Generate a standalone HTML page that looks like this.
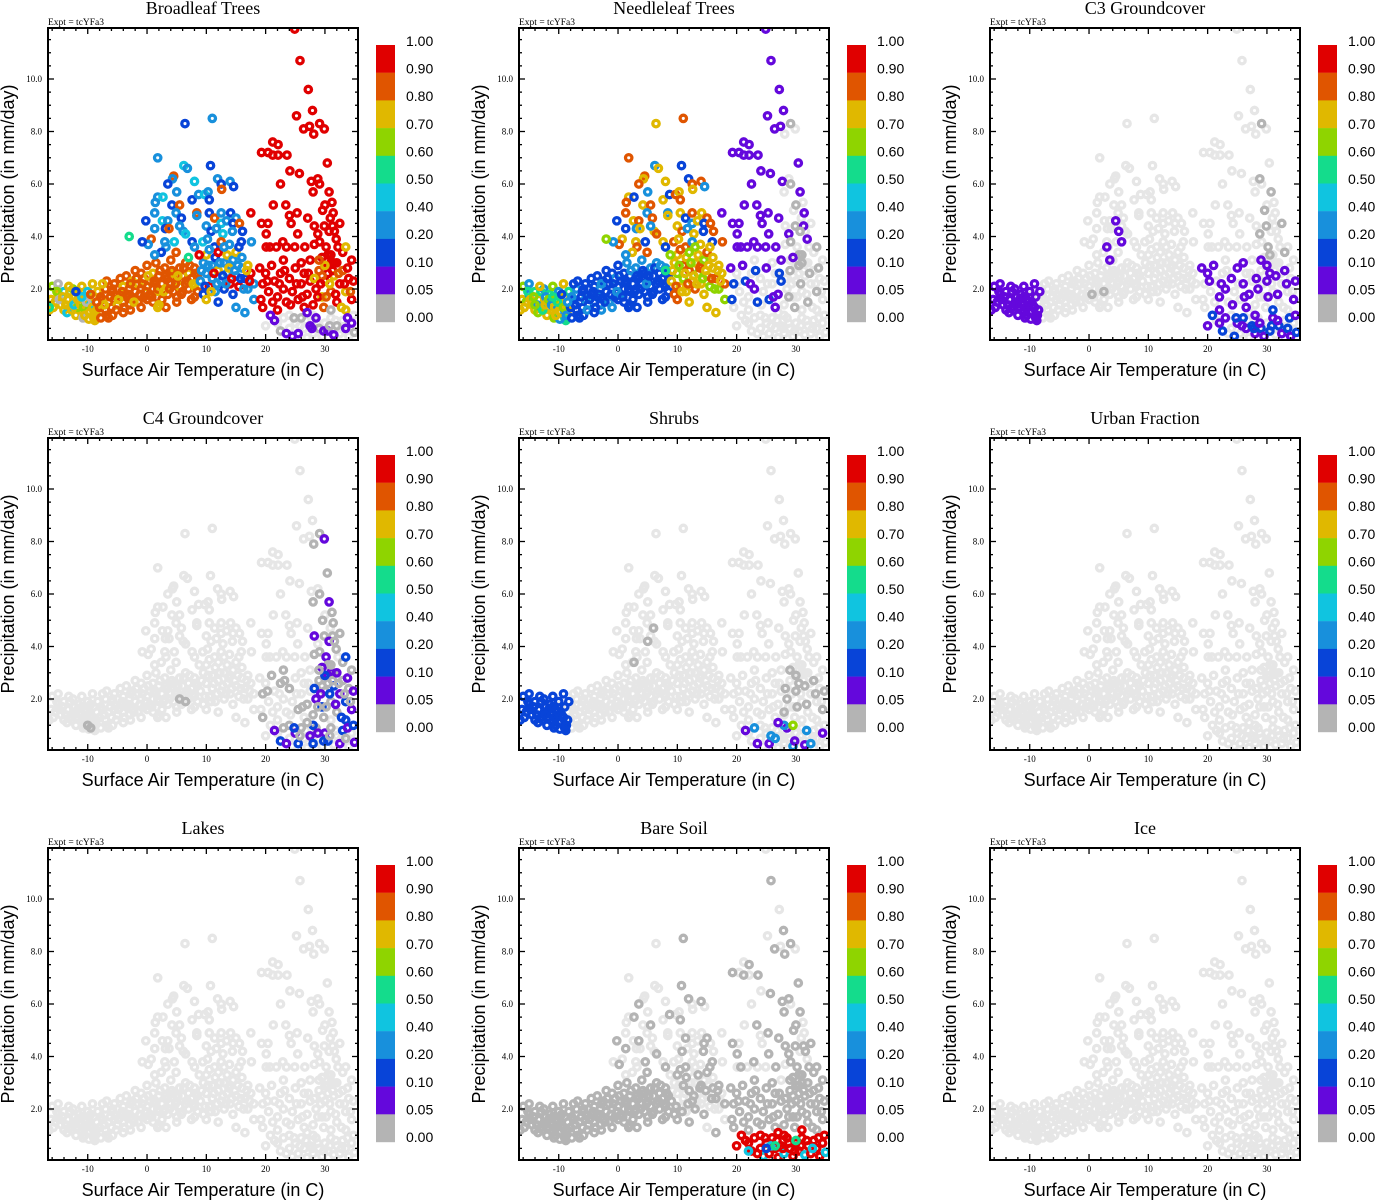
<!DOCTYPE html>
<html><head><meta charset="utf-8">
<style>
html,body{margin:0;padding:0;background:#fff;}
svg{display:block;}
</style></head>
<body>
<svg id="fig" width="1375" height="1200" xmlns="http://www.w3.org/2000/svg"></svg>
<script>
// ---- data: shared point cloud (temperature C, precipitation mm/day) grouped into clusters ----
const clusterW = [[-16.2,1.6],[-15.5,1.5],[-15,1.8],[-14.5,1.4],[-14,1.9],[-13.4,1.6],[-13,1.3],[-12.5,2.0],[-12,1.5],[-11.5,1.8],[-11,1.2],[-10.5,1.6],[-10,1.1],[-9.5,1.4],[-9,0.9],[-8.5,1.2],[-16,2.1],[-15,2.2],[-14,1.2],[-13,1.9],[-12,1.0],[-11,2.1],[-10,1.9],[-9.2,2.2],[-8.8,0.8],[-11.8,1.3],[-10.8,0.9],[-9.8,0.85],[-9,1.7],[-8.3,1.9],[-15.8,1.3],[-13.5,1.1],[-12.2,1.7]];
const clusterW2 = [[-16.5,1.2],[-15.2,1.9],[-14.8,1.6],[-14.2,1.7],[-13.7,1.4],[-13.2,2.1],[-12.7,1.2],[-12.3,1.4],[-11.7,1.6],[-11.2,1.4],[-10.7,1.3],[-10.2,1.5],[-9.7,1.1],[-9.2,1.3],[-8.7,1.0],[-10.5,1.0],[-11,1.7]];
const clusterM = [[-8,1.3],[-7.5,1.6],[-7,1.2],[-7,2.0],[-6.5,1.5],[-6,1.9],[-6,1.3],[-5.5,2.2],[-5.5,1.6],[-5,1.4],[-5,2.0],[-4.5,1.8],[-4.5,2.4],[-4,1.5],[-4,2.1],[-3.5,1.7],[-3.5,2.5],[-3,1.4],[-3,2.0],[-2.5,2.3],[-2.5,1.6],[-2,1.9],[-2,2.7],[-1.5,1.5],[-1.5,2.2],[-1,2.0],[-1,2.6],[-0.5,1.7],[-0.5,2.4],[0,2.1],[0,1.6],[0,2.9],[0.5,2.3],[0.5,1.8],[1,2.6],[1,2.0],[1,1.5],[1.5,2.2],[1.5,3.0],[2,1.9],[2,2.5],[2.5,2.2],[2.5,1.6],[3,2.8],[3,2.0],[3.5,2.4],[3.5,1.8],[4,2.2],[4,3.1],[4.5,2.6],[4.5,1.9],[5,2.3],[5,1.7],[5.5,2.8],[5.5,2.1],[6,2.5],[6,1.9],[6.5,2.2],[6.5,3.0],[7,2.6],[7,2.0],[7.5,2.4],[7.5,1.6],[8,2.8],[8,2.1],[8.5,2.5],[8.5,1.9],[-6.8,2.3],[-2.8,1.2],[1.8,1.3],[3.2,1.3],[-7.8,0.9],[-5.8,1.0]];
const clusterM2 = [[-7.8,1.7],[-7.2,1.4],[-6.8,1.0],[-6.2,1.7],[-5.8,2.0],[-5.2,1.2],[-4.8,1.6],[-4.2,1.9],[-3.8,1.3],[-3.2,1.8],[-2.8,2.2],[-2.2,1.5],[-1.8,2.4],[-1.2,1.8],[-0.8,2.2],[-0.2,1.9],[0.2,2.5],[0.8,1.7],[1.2,2.3],[1.8,2.0],[2.2,2.7],[2.8,1.9],[3.2,2.5],[3.8,2.0],[4.2,2.7],[4.8,2.2],[5.2,2.5],[5.8,1.8],[6.2,2.8],[6.8,2.3],[7.2,2.9],[7.8,2.2],[8.2,2.6],[-6.5,0.9],[-4,1.1],[-1,1.3],[2,1.4],[5,1.5],[8,1.7],[-9.5,1.8],[-8.5,1.5],[-7.5,2.2]];
const clusterU = [[1.8,7.0],[6.4,8.3],[11.0,8.5],[6.2,6.7],[6.8,6.6],[10.7,6.7],[4.5,6.3],[4.3,6.2],[3.5,6.0],[5.0,5.7],[8.0,6.1],[11.9,6.2],[12.5,6.0],[12.6,5.8],[14.0,6.1],[14.6,5.9],[1.8,5.5],[2.7,5.5],[1.4,5.3],[4.2,5.2],[5.5,5.2],[4.9,4.9],[7.6,5.4],[8.7,5.6],[9.7,5.6],[10.3,5.7],[10.5,5.4],[8.4,4.9],[8.4,4.8],[-0.2,4.6],[1.3,4.9],[2.6,4.6],[3.5,4.6],[3.1,4.3],[3.7,4.3],[1.3,4.3],[5.8,4.7],[6.1,4.2],[6.5,4.1],[5.5,4.4],[10.5,4.9],[11.4,4.7],[12.5,4.9],[14.1,4.9],[15.0,4.7],[12.5,4.5],[13.4,4.6],[14.5,4.5],[15.6,4.5],[10.0,4.4],[10.8,4.2],[11.7,4.3],[12.8,4.1],[14.4,4.2],[16.1,4.2],[0.7,3.9],[0.2,3.7],[-0.8,3.8],[3.0,3.8],[4.6,3.8],[3.2,3.6],[2.4,3.4],[4.9,3.4],[1.3,3.3],[7.6,3.8],[8.0,3.6],[9.4,3.8],[10.2,3.9],[11.4,3.6],[12.5,3.8],[13.9,3.7],[15.9,3.8],[17.6,3.8]];
const clusterE = [[9,2.3],[9.5,3.0],[9.5,1.8],[10,2.6],[10,3.3],[10.5,2.1],[11,2.9],[11,2.4],[11.5,3.2],[11.5,1.9],[12,2.7],[12,3.4],[12.5,2.3],[13,3.0],[13,2.0],[13.5,2.6],[13.5,3.3],[14,2.2],[14,2.9],[14.5,3.1],[14.5,1.8],[15,2.5],[15,3.4],[15.5,2.1],[16,2.8],[16,3.2],[16.5,2.4],[17,2.0],[17,2.9],[17.5,2.6],[18,2.2],[18,1.6],[12,1.5],[15,1.3],[10,1.6],[8.8,3.3],[16.5,1.1]];
const clusterE2 = [[9.2,2.7],[9.8,2.1],[10.3,2.9],[10.8,1.9],[11.3,2.6],[11.8,2.2],[12.3,3.0],[12.8,2.5],[13.3,2.2],[13.8,2.8],[14.3,2.4],[14.8,2.7],[15.3,2.9],[15.8,2.4],[16.3,2.0],[16.8,2.7],[17.3,2.3],[10.5,3.5],[13,3.6],[15.5,3.6]];
const clusterH = [[24.9,11.9],[25.8,10.7],[27.2,9.6],[27.9,8.8],[25.2,8.6],[26.4,8.1],[27.4,8.2],[28.1,7.9],[29.1,8.3],[29.9,8.1],[19.3,7.2],[20.4,7.2],[21.2,7.1],[22.1,7.1],[23.6,7.1],[21.2,7.6],[22.1,7.5],[30.4,6.8],[24.1,6.5],[25.7,6.4],[22.5,6.0],[27.7,6.1],[28.8,6.2],[29.1,6.0],[28.0,5.7],[30.7,5.7],[21.3,5.2],[23.4,5.2],[31.2,5.3],[30.0,5.2],[29.6,5.0],[31.4,4.9],[17.5,4.9],[19.3,4.5],[20.4,4.5],[20.1,4.1],[24.0,4.8],[25.3,4.9],[24.3,4.5],[25.4,4.1],[24.9,3.6],[27.1,4.7],[28.2,4.4],[29.9,4.4],[30.9,4.7],[31.3,4.4],[32.5,4.5],[30.7,4.2],[31.6,4.2],[28.8,4.1],[20.1,3.6],[20.7,3.6],[21.8,3.6],[22.9,3.8],[23.5,3.6],[26.6,3.6],[28.2,3.7],[29.1,3.8],[30.2,3.6],[31.9,3.9],[32.2,3.6],[30.5,3.3],[31.5,3.0],[29.5,3.2],[33,3.4],[27.5,3.1]];
const clusterL = [[19,2.8],[19.5,2.2],[20,2.6],[20.5,1.9],[21,2.9],[21.5,2.3],[22,1.7],[22.5,2.6],[23,2.0],[23.5,1.5],[24,2.4],[24.5,1.9],[25,2.8],[25.5,1.6],[26,2.2],[26.5,2.6],[27,1.8],[27.5,2.3],[28,1.4],[28.5,2.0],[29,2.7],[29.5,1.7],[30,2.3],[30.5,2.9],[31,1.9],[31.5,2.5],[32,1.5],[32.5,2.2],[33,2.7],[33.5,1.9],[34,2.4],[34.5,1.6],[29.8,1.3],[22,1.2],[19.5,1.3],[26.5,1.3],[33.5,1.2],[30.5,2.6],[31,3.0],[29.5,2.5]];
const clusterL2 = [[19.2,1.6],[20.3,2.3],[21.2,1.5],[22.3,2.2],[23.2,2.7],[24.2,1.4],[25.2,2.2],[26.2,1.7],[27.2,2.6],[28.2,2.4],[28.8,1.7],[29.3,2.2],[30.2,1.7],[30.8,2.2],[31.3,2.7],[31.8,1.8],[32.3,2.6],[32.8,1.3],[33.3,2.2],[33.8,2.8],[34.3,1.9],[30,2.9],[31,3.3],[32,3.0],[29,3.1],[26,3.0],[23,3.1],[33.5,3.6],[34.5,3.1],[34.8,2.3]];
const clusterB = [[20,0.6],[21.5,0.8],[22.5,0.4],[23,0.9],[24,0.5],[24.5,0.2],[25,0.7],[25.5,0.3],[26,0.9],[26.5,0.5],[27,0.15],[27.5,0.6],[28,0.3],[28.5,0.9],[29,0.5],[29.5,0.2],[30,0.7],[30.5,0.4],[31,0.9],[31.5,0.25],[32,0.6],[32.5,0.3],[33,0.8],[33.5,0.5],[34,0.2],[34.5,0.7],[35,0.35],[28,1.0],[24,1.0]];
const clusterB2 = [[20.8,1.0],[22,0.7],[23.5,0.3],[24.8,0.9],[25.8,0.6],[26.8,0.8],[27.8,0.5],[28.8,0.7],[29.8,0.4],[30.8,0.6],[31.8,0.8],[32.8,0.5],[33.8,0.9],[34.8,1.0],[27,1.1],[31,1.2]];

// ---- per-panel fractions per cluster (null = no data, cycled over points) ----
const panelTitles = ["Broadleaf Trees","Needleleaf Trees","C3 Groundcover","C4 Groundcover","Shrubs","Urban Fraction","Lakes","Bare Soil","Ice"];
const fracBroadleaf = {W:[0.75,0.75,0.75,0.75,0.45,0.75,0.75,0.65,0],M:[0.85,0.85,0.85,0.85,0.75],U:[0.3,0.15,0.3,0.45,0.3,0.15,0.85],E:[0.3,0.3,0.15,0.3,0.75,0.95],Hw:[0.95],He:[0.95],Lw:[0.95],Le:[0.95,0.95,0.85,0.75],B:[null,0.07,0,null,null,0.07]};
const fracNeedleleaf = {W:[0.75,0.65,0.3,0.75,0.55],M:[0.15,0.15,0.15,0.3,0.15],U:[0.85,0.75,0.85,0.3,0.75,0.15],E:[0.75,0.75,0.85,0.65],Hw:[0.07],He:[null,0,null,0.07],Lw:[0.07,0.15,null,null],Le:[null,null,0],B:[null]};
const fracC3 = {W:[0.07],M:[null],U:[null],E:[null],Hw:[null],He:[null,0,null],Lw:[0.07,null],Le:[null,0.07,null],B:[0.07,null,0.15]};
const fracC4 = {W:[null],M:[null],U:[null],E:[null],Hw:[null],He:[0,0,0.07,0,null],Lw:[null,0,null],Le:[0,0.07,0,0.15],B:[null,0.07,0.15,0,null]};
const fracShrubs = {W:[0.15],M:[null],U:[null],E:[null],Hw:[null],He:[null],Lw:[null],Le:[null,0,null],B:[null,0.07,null,0.3,null,null]};
const fracUrban = {W:[null],M:[null],U:[null],E:[null],Hw:[null],He:[null],Lw:[null],Le:[null],B:[null]};
const fracLakes = {W:[null],M:[null],U:[null],E:[null],Hw:[null],He:[null],Lw:[null],Le:[null],B:[null]};
const fracBareSoil = {W:[0],M:[0],U:[null,null,0],E:[0,null],Hw:[null,0],He:[0,0,null],Lw:[0],Le:[0],B:[0.95,0.95,0.95,0.95,0.95,0.4,0.95]};
const fracIce = {W:[null],M:[null],U:[null],E:[null],Hw:[null],He:[null],Lw:[null],Le:[null],B:[null]};
// extra highlighted points [temp, precip, fraction]
const extraBroadleaf = [[-16.5,1.3,0.55],[-3,4.0,0.55],[-12,1.9,0.1],[7,3.2,0.55]];
const extraNeedleleaf = [[-2,3.9,0.65],[-14,1.4,0.65],[8,2.7,0.55]];
const extraC3 = [[3.5,3.1,0.07],[4.5,4.6,0.07],[5,4.2,0.07],[5.5,3.8,0.07],[3,3.6,0.07],[0.5,1.8,0],[2.5,1.9,0]];
const extraC4 = [[-10,1.0,0],[-9.5,0.9,0],[5.5,2.0,0],[6.5,1.9,0]];
const extraShrubs = [[5,4.2,0],[6,4.7,0],[2.7,3.4,0],[29.5,1.0,0.65],[28,1.5,0]];
const extraBareSoil = [[22,0.4,0.45],[25,0.5,0.15],[26.5,0.6,0.55],[30,0.8,0.55]];
const panelFracs = [fracBroadleaf,fracNeedleleaf,fracC3,fracC4,fracShrubs,fracUrban,fracLakes,fracBareSoil,fracIce];
const panelExtras = [extraBroadleaf,extraNeedleleaf,extraC3,extraC4,extraShrubs,[],[],extraBareSoil,[]];
const cbLabels = ["1.00","0.90","0.80","0.70","0.60","0.50","0.40","0.20","0.10","0.05","0.00"];
const cbLevels = [1.0,0.9,0.8,0.7,0.6,0.5,0.4,0.2,0.1,0.05,0.0];
const xTicks = [-10,0,10,20,30];
const yTicks = [2,4,6,8,10];

const cbColors = ["#e00000","#e05500","#e0b800","#8fd400","#14dc8c","#10c4e0","#1890dc","#0844d8","#6408dc","#b4b4b4"];
const LIGHT = "#e6e6e6";
const NS = "http://www.w3.org/2000/svg";
const svg = document.getElementById('fig');
function mk(tag, attrs, parent){const e=document.createElementNS(NS,tag);for(const k in attrs)e.setAttribute(k,attrs[k]);(parent||svg).appendChild(e);return e;}
function colorFor(v){ if(v===null) return LIGHT; for(let i=0;i<10;i++){ if(v>=cbLevels[i+1]) return cbColors[i]; } return cbColors[9]; }

const colX=[48,519,990], rowY=[28,438,848], PW=310, PH=312;
const allH = clusterH, allL = clusterL.concat(clusterL2);
const clusterSets = {W:clusterW.concat(clusterW2),M:clusterM.concat(clusterM2),U:clusterU,E:clusterE.concat(clusterE2),
  Hw:allH.filter(d=>d[0]<28),He:allH.filter(d=>d[0]>=28),
  Lw:allL.filter(d=>d[0]<28),Le:allL.filter(d=>d[0]>=28),B:clusterB.concat(clusterB2)};

for(let pi=0;pi<9;pi++){
  const ox=colX[pi%3], oy=rowY[Math.floor(pi/3)];
  const xS=t=>ox+(t+16.7)*5.93;
  const yS=p=>oy+313.5-p*26.25;
  const g=mk('g',{});
  
  
  const title=mk('text',{x:ox+155,y:oy-14,'text-anchor':'middle','font-family':'Liberation Serif, serif','font-size':18},g);
  title.textContent=panelTitles[pi];
  
  
  const ex=mk('text',{x:ox,y:oy-3,'font-family':'Liberation Serif, serif','font-size':9.5},g);
  ex.textContent='Expt = tcYFa3';
  
  
  const pts=[];
  const fr=panelFracs[pi];
  for(const key in clusterSets){
    const vals=fr[key]; const arr=clusterSets[key];
    arr.forEach((d,i)=>pts.push([d[0],d[1],vals[i%vals.length]]));
  }
  panelExtras[pi].forEach(d=>pts.push(d));
  const order=pts.filter(d=>d[2]===null).concat(pts.filter(d=>d[2]!==null));
  const clip=mk('clipPath',{id:'clip'+pi},g);
  mk('rect',{x:ox,y:oy,width:PW,height:PH},clip);
  const pg=mk('g',{'clip-path':'url(#clip'+pi+')'},g);
  
  
  order.forEach(d=>{
    const c=mk('circle',{cx:xS(d[0]).toFixed(1),cy:yS(d[1]).toFixed(1),r:3.2,fill:'none',stroke:colorFor(d[2]),'stroke-width':3.3},pg);
    
    
  });
  const fr2=mk('rect',{x:ox,y:oy,width:PW,height:PH,fill:'none',stroke:'#000','stroke-width':2},g);
  
  
  for(let t=-16;t<=35;t+=2){
    const X=xS(t), major=(t%10===0), L=major?6:3;
    mk('line',{x1:X,y1:oy+PH,x2:X,y2:oy+PH-L,stroke:'#000','stroke-width':1.3},g);
    mk('line',{x1:X,y1:oy,x2:X,y2:oy+L,stroke:'#000','stroke-width':1.3},g);
  }
  xTicks.forEach(t=>{
    const tx=mk('text',{x:xS(t),y:oy+PH+12,'text-anchor':'middle','font-family':'Liberation Serif, serif','font-size':9},g);
    tx.textContent=String(t);
    
    
  });
  for(let p=0.5;p<=11.9;p+=0.5){
    const Y=yS(p), major=(Math.abs(p%2)<0.01), L=major?6:3;
    mk('line',{x1:ox,y1:Y,x2:ox+L,y2:Y,stroke:'#000','stroke-width':1.3},g);
    mk('line',{x1:ox+PW,y1:Y,x2:ox+PW-L,y2:Y,stroke:'#000','stroke-width':1.3},g);
  }
  yTicks.forEach(p=>{
    const ty=mk('text',{x:ox-6,y:yS(p)+3,'text-anchor':'end','font-family':'Liberation Serif, serif','font-size':9},g);
    ty.textContent=p.toFixed(1);
    
    
  });
  const xt=mk('text',{x:ox+155,y:oy+348,'text-anchor':'middle','font-family':'Liberation Sans, sans-serif','font-size':18},g);
  xt.textContent='Surface Air Temperature (in C)';
  
  
  const yt=mk('text',{x:0,y:0,'text-anchor':'middle','font-family':'Liberation Sans, sans-serif','font-size':18,transform:'translate('+(ox-34)+','+(oy+156)+') rotate(-90)'},g);
  yt.textContent='Precipitation (in mm/day)';
  
  
  const cb=mk('g',{},g);
  
  
  for(let i=0;i<10;i++){
    const r=mk('rect',{x:ox+328,y:oy+17+i*27.7,width:19,height:27.9,fill:cbColors[i]},cb);
    
    
  }
  cbLabels.forEach((s,i)=>{
    const tl=mk('text',{x:ox+358,y:oy+18+i*27.6,'font-family':'Liberation Sans, sans-serif','font-size':14},cb);
    tl.textContent=s;
    
    
  });
}
</script>
</body></html>
